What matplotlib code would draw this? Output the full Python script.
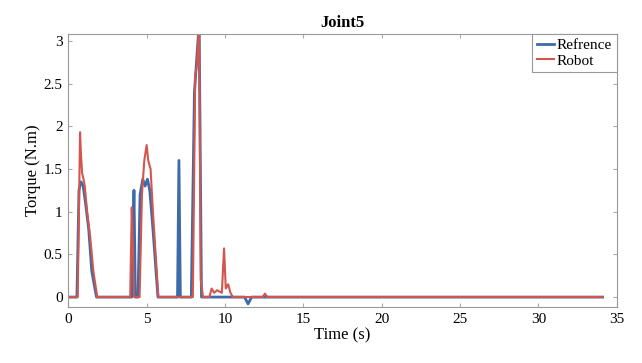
import matplotlib.pyplot as plt
import matplotlib.ticker as mticker

plt.rcParams["font.family"] = ["Liberation Serif", "DejaVu Serif"]

# Joint 5 torque profiles (time in s, torque in N.m)
t_ref = [0, 0.55, 0.68, 0.8, 0.95, 1.1, 1.3, 1.5, 1.8, 4.05, 4.12, 4.19, 4.28,
         4.45, 4.58, 4.75, 4.9, 5.05, 5.2, 5.4, 5.72, 6.97, 7.06, 7.15, 7.85,
         8.05, 8.35, 8.5, 11.25, 11.47, 11.7, 34.1]
tau_ref = [0, 0, 1.25, 1.35, 1.3, 1.1, 0.8, 0.3, 0, 0, 0.6, 1.25, 0,
           0, 1.2, 1.38, 1.3, 1.38, 1.25, 0.8, 0, 0, 1.6, 0, 0,
           2.4, 3.2, 0, 0, -0.08, 0, 0]

t_rob = [0, 0.6, 0.75, 0.8, 0.88, 0.95, 1.05, 1.2, 1.4, 1.6, 1.85, 3.95, 4.05,
         4.12, 4.2, 4.55, 4.7, 4.85, 5.0, 5.1, 5.25, 5.4, 5.75, 7.95, 8.1,
         8.2, 8.35, 8.45, 8.6, 9.0, 9.15, 9.3, 9.5, 9.8, 9.94, 10.05, 10.2,
         10.35, 10.5, 12.4, 12.55, 12.7, 34.1]
tau_rob = [0, 0, 1.93, 1.7, 1.45, 1.4, 1.3, 1.0, 0.7, 0.3, 0, 0, 1.05,
           0.6, 0, 0, 1.2, 1.6, 1.78, 1.6, 1.5, 1.0, 0, 0, 2.6,
           2.7, 3.2, 0.2, 0, 0, 0.1, 0.05, 0.08, 0.05, 0.57, 0.1, 0.15,
           0.05, 0, 0, 0.04, 0, 0]

fig = plt.figure(figsize=(6.42, 3.63), dpi=100)
ax = fig.add_axes([0.1064, 0.1534, 0.8542, 0.7529])

ax.plot(t_ref, tau_ref, color="#3d6aa8", lw=2.0, label="Refrence")
ax.plot(t_rob, tau_rob, color="#d2564e", lw=1.5, label="Robot")

ax.set_xlim(0, 35)
ax.set_ylim(-0.12, 3.08)
ax.xaxis.set_major_locator(mticker.MultipleLocator(5))
ax.yaxis.set_major_locator(mticker.MultipleLocator(0.5))
ax.yaxis.set_major_formatter(mticker.FuncFormatter(lambda v, p: f"{v:g}"))
ax.tick_params(direction="in", length=3, color="#aaaaaa", labelsize=11,
               top=True, right=True, pad=4)
for s in ax.spines.values():
    s.set_color("#999999")
    s.set_linewidth(0.8)

ax.set_xlabel("Time (s)", fontsize=12, labelpad=1)
ax.set_ylabel("Torque (N.m)", fontsize=12, labelpad=2)
ax.set_title("Joint5", fontsize=12, fontweight="bold", pad=5)

leg = ax.legend(loc="upper right", fontsize=11, handlelength=1.1,
                handletextpad=0.2, borderpad=0.3, labelspacing=0.1,
                borderaxespad=0, fancybox=False, framealpha=1)
leg.get_frame().set_edgecolor("#999999")
leg.get_frame().set_linewidth(0.8)

fig.savefig("out.png", dpi=100)
